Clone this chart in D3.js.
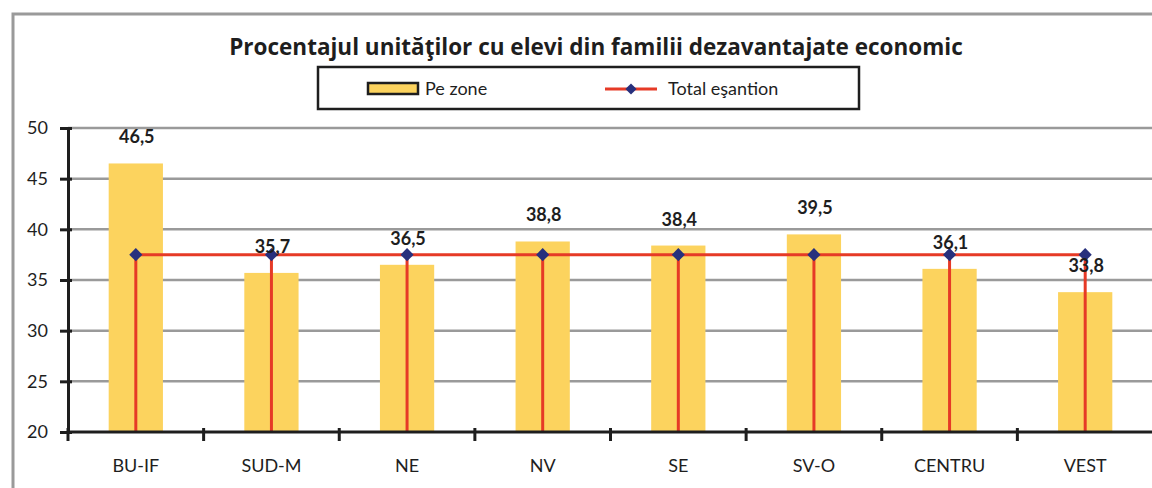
<!DOCTYPE html>
<html>
<head>
<meta charset="utf-8">
<script src="https://cdn.jsdelivr.net/npm/d3@7"></script>
<style>
  html, body { margin: 0; padding: 0; background: #fff; }
  svg { display: block; font-family: Lato, "Open Sans", sans-serif; }
</style>
</head>
<body>
<script>
// date
const zone = ["BU-IF", "SUD-M", "NE", "NV", "SE", "SV-O", "CENTRU", "VEST"];
const valoriZone = [46.5, 35.7, 36.5, 38.8, 38.4, 39.5, 36.1, 33.8];
const totalEsantion = 37.5;
const yTicks = [20, 25, 30, 35, 40, 45, 50];
const titlu = "Procentajul unităţilor cu elevi din familii dezavantajate economic";
const legenda = ["Pe zone", "Total eşantion"];

const width = 1152;
const height = 488;
const marginLeft = 68;
const plotRight = 1153;
const plotTop = 128;
const plotBottom = 432;

const culoareBara = "#fcd35e";
const culoareLinie = "#e63a26";
const culoareRomb = "#27307d";
const negru = "#1e1e1e";

const svg = d3.create("svg")
  .attr("width", width)
  .attr("height", height);

// chenarul exterior (doar stanga si sus sunt vizibile)
svg.append("path")
  .attr("d", "M13,488 L13,14 L1152,14")
  .attr("fill", "none")
  .attr("stroke", "#9a9a9a")
  .attr("stroke-width", 3);

const x = d3.scaleBand()
  .domain(zone)
  .range([marginLeft, plotRight])
  .paddingInner(0)
  .paddingOuter(0);

const y = d3.scaleLinear()
  .domain([20, 50])
  .range([plotBottom, plotTop]);

const cx = d => x(d) + x.bandwidth() / 2;
const barW = x.bandwidth() * 0.4;

// titlu
svg.append("text")
  .attr("x", 596)
  .attr("y", 55)
  .attr("text-anchor", "middle")
  .attr("font-size", 22.5)
  .attr("font-weight", "bold")
  .attr("font-family", "'Open Sans', sans-serif")
  .attr("fill", negru)
  .text(titlu);

// legenda
const leg = svg.append("g");
leg.append("rect")
  .attr("x", 318).attr("y", 67)
  .attr("width", 541).attr("height", 42)
  .attr("fill", "#fff")
  .attr("stroke", negru)
  .attr("stroke-width", 2.5);
leg.append("rect")
  .attr("x", 368).attr("y", 83)
  .attr("width", 50).attr("height", 11)
  .attr("fill", culoareBara)
  .attr("stroke", negru)
  .attr("stroke-width", 2.5);
leg.append("text")
  .attr("x", 425).attr("y", 95)
  .attr("font-size", 18)
  .attr("fill", negru)
  .text(legenda[0]);
leg.append("line")
  .attr("x1", 605).attr("x2", 657)
  .attr("y1", 89).attr("y2", 89)
  .attr("stroke", culoareLinie)
  .attr("stroke-width", 3);
leg.append("path")
  .attr("d", d3.symbol(d3.symbolDiamond2, 80)())
  .attr("transform", "translate(631,89)")
  .attr("fill", culoareRomb);
leg.append("text")
  .attr("x", 668).attr("y", 95)
  .attr("font-size", 18)
  .attr("fill", negru)
  .text(legenda[1]);

// grila orizontala
svg.append("g")
  .selectAll("line")
  .data(yTicks.filter(t => t > 20))
  .join("line")
  .attr("x1", marginLeft)
  .attr("x2", plotRight)
  .attr("y1", d => y(d))
  .attr("y2", d => y(d))
  .attr("stroke", "#9a9a9a")
  .attr("stroke-width", 2.5);

// bare
svg.append("g")
  .selectAll("rect")
  .data(zone)
  .join("rect")
  .attr("x", d => cx(d) - barW / 2)
  .attr("width", barW)
  .attr("y", (d, i) => y(valoriZone[i]))
  .attr("height", (d, i) => y(20) - y(valoriZone[i]))
  .attr("fill", culoareBara);

// linia de total: orizontala + verticale pana la axa
svg.append("line")
  .attr("x1", cx(zone[0]))
  .attr("x2", cx(zone[zone.length - 1]))
  .attr("y1", y(totalEsantion))
  .attr("y2", y(totalEsantion))
  .attr("stroke", culoareLinie)
  .attr("stroke-width", 3);

svg.append("g")
  .selectAll("line")
  .data(zone)
  .join("line")
  .attr("x1", d => cx(d))
  .attr("x2", d => cx(d))
  .attr("y1", y(totalEsantion))
  .attr("y2", y(20))
  .attr("stroke", culoareLinie)
  .attr("stroke-width", 3);

// axa y
svg.append("g")
  .attr("transform", `translate(${marginLeft},0)`)
  .call(d3.axisLeft(y).tickValues(yTicks).tickSize(7).tickPadding(13).tickFormat(d3.format("d")))
  .call(g => g.select(".domain").attr("stroke", negru).attr("stroke-width", 3))
  .call(g => g.selectAll(".tick line").attr("stroke", negru).attr("stroke-width", 3).attr("x2", -8).attr("x1", 4))
  .call(g => g.selectAll(".tick text").attr("font-size", 18).attr("fill", negru).attr("font-family", "Lato, sans-serif"));

// axa x
const xAxis = svg.append("g")
  .attr("transform", `translate(0,${plotBottom})`);
xAxis.append("line")
  .attr("x1", marginLeft).attr("x2", plotRight)
  .attr("stroke", negru).attr("stroke-width", 3);
xAxis.selectAll("line.tick")
  .data(zone)
  .join("line")
  .attr("class", "tick")
  .attr("x1", d => x(d))
  .attr("x2", d => x(d))
  .attr("y1", -4)
  .attr("y2", 9)
  .attr("stroke", negru)
  .attr("stroke-width", 3);
xAxis.selectAll("text")
  .data(zone)
  .join("text")
  .attr("x", d => cx(d))
  .attr("y", 40)
  .attr("text-anchor", "middle")
  .attr("font-size", 18)
  .attr("fill", negru)
  .text(d => d);

// romburi
svg.append("g")
  .selectAll("path")
  .data(zone)
  .join("path")
  .attr("d", d3.symbol(d3.symbolDiamond2, 110)())
  .attr("transform", d => `translate(${cx(d)},${y(totalEsantion)})`)
  .attr("fill", culoareRomb);

// etichete valori
svg.append("g")
  .selectAll("text")
  .data(zone)
  .join("text")
  .attr("x", d => cx(d) + 1)
  .attr("y", (d, i) => y(valoriZone[i]) - 20)
  .attr("text-anchor", "middle")
  .attr("font-size", 18)
  .attr("font-weight", "bold")
  .attr("fill", negru)
  .text((d, i) => d3.format(".1f")(valoriZone[i]).replace(".", ","));

document.body.appendChild(svg.node());
</script>
</body>
</html>
